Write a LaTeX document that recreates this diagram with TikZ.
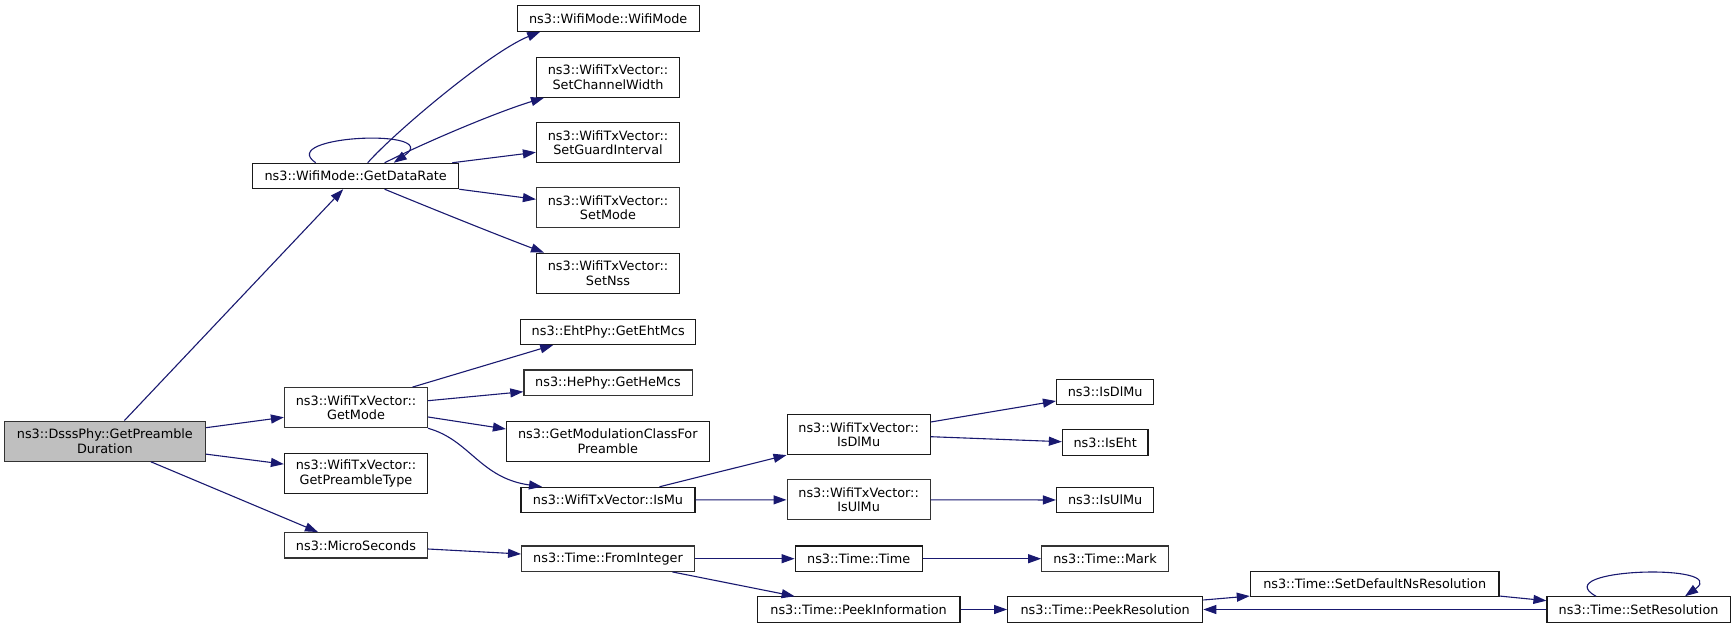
\documentclass[tikz,border=0pt]{standalone}
\usepackage{fontspec}
\setmainfont{DejaVu Sans}
\usetikzlibrary{arrows.meta}
\definecolor{edgec}{HTML}{191970}
\definecolor{rootfill}{HTML}{BFBFBF}
\definecolor{bord}{HTML}{1A1A1A}
\definecolor{bordg}{HTML}{333333}
\tikzset{
  fn/.style={draw=bord, line width=1.2pt, rectangle, inner sep=0pt, align=center,
    font=\fontsize{12.83}{14.5}\selectfont, minimum height=25.3pt, fill=white},
  two/.style={minimum height=40pt},
  gb/.style={draw=bordg},
  root/.style={fill=rootfill, draw=bordg},
  call/.style={draw=edgec, line width=1.1pt, -{Triangle[length=13pt,width=9pt]}},
}
\begin{document}
\begin{tikzpicture}[x=1pt,y=-1pt]
\useasboundingbox (0,0) rectangle (1736,628);
% column 0
\node[fn,two,root,minimum width=201pt] (dsss) at (104.9,441.2) {ns3::DsssPhy::GetPreamble\\Duration};
% column 1
\node[fn,minimum width=206pt] (gdr) at (355.7,176) {ns3::WifiMode::GetDataRate};
\node[fn,two,gb,minimum width=143pt] (gm) at (356,407.7) {ns3::WifiTxVector::\\GetMode};
\node[fn,two,minimum width=143pt] (gpt) at (356,473.3) {ns3::WifiTxVector::\\GetPreambleType};
\node[fn,gb,minimum width=143pt] (ms) at (356,545.3) {ns3::MicroSeconds};
% column 2
\node[fn,minimum width=182pt] (wm) at (608.2,18.5) {ns3::WifiMode::WifiMode};
\node[fn,two,minimum width=143pt] (scw) at (608,77.2) {ns3::WifiTxVector::\\SetChannelWidth};
\node[fn,two,minimum width=143pt] (sgi) at (608,142.5) {ns3::WifiTxVector::\\SetGuardInterval};
\node[fn,two,gb,minimum width=143pt] (sm) at (608,207.8) {ns3::WifiTxVector::\\SetMode};
\node[fn,two,minimum width=143pt] (sn) at (608,273.2) {ns3::WifiTxVector::\\SetNss};
\node[fn,minimum width=175.3pt] (eht) at (608.2,331.8) {ns3::EhtPhy::GetEhtMcs};
\node[fn,gb,minimum width=168.2pt] (he) at (608,382.7) {ns3::HePhy::GetHeMcs};
\node[fn,two,minimum width=202.6pt] (gmcp) at (607.8,441.2) {ns3::GetModulationClassFor\\Preamble};
\node[fn,minimum width=174pt] (ismu) at (608,500) {ns3::WifiTxVector::IsMu};
\node[fn,gb,minimum width=172.7pt] (fi) at (608,558.7) {ns3::Time::FromInteger};
% column 3
\node[fn,two,minimum width=143pt] (wdl) at (858.6,434.5) {ns3::WifiTxVector::\\IsDlMu};
\node[fn,two,gb,minimum width=143pt] (wul) at (858.6,499.8) {ns3::WifiTxVector::\\IsUlMu};
\node[fn,minimum width=127pt] (tt) at (858.7,558.7) {ns3::Time::Time};
\node[fn,minimum width=202.8pt] (pi) at (858.6,609.5) {ns3::Time::PeekInformation};
% column 4
\node[fn,minimum width=97.3pt] (isdl) at (1105.2,392) {ns3::IsDlMu};
\node[fn,minimum width=85.5pt] (iseht) at (1105.2,442.5) {ns3::IsEht};
\node[fn,minimum width=97.3pt] (isul) at (1105.2,500) {ns3::IsUlMu};
\node[fn,gb,minimum width=126.5pt] (mark) at (1105,558.7) {ns3::Time::Mark};
\node[fn,minimum width=195pt] (pr) at (1105.2,609.5) {ns3::Time::PeekResolution};
% column 5/6
\node[fn,minimum width=248.7pt] (sdns) at (1374.7,583.8) {ns3::Time::SetDefaultNsResolution};
\node[fn,minimum width=183.2pt] (sr) at (1638.6,609.5) {ns3::Time::SetResolution};

% edges from root
\draw[call] (dsss) -- (gdr);
\draw[call] (dsss) -- (gm);
\draw[call] (dsss) -- (gpt);
\draw[call] ([xshift=46pt]dsss.south) -- ([xshift=-38pt]ms.north);
% GetDataRate
\draw[call] ([xshift=12pt]gdr.north) .. controls (395,132) and (490,52) .. ([xshift=-68pt]wm.south);
\draw[call] ([xshift=29pt]gdr.north) .. controls (430,140) and (500,111) .. ([xshift=-64pt]scw.south);
\draw[call] ([xshift=-7pt]gdr.north east) -- ([yshift=-9.8pt]sgi.west);
\draw[call] (gdr.south east) -- ([yshift=8.5pt]sm.west);
\draw[call] ([xshift=29pt]gdr.south) .. controls (440,212) and (500,236) .. ([xshift=-64pt]sn.north);
\draw[call] ([xshift=-40pt]gdr.north) .. controls (275,135) and (445,128) .. ([xshift=38pt]gdr.north);
% GetMode
\draw[call] ([xshift=56.5pt]gm.north) -- ([xshift=-55pt]eht.south);
\draw[call] ([yshift=7pt]gm.east) -- ([yshift=-9pt]he.west);
\draw[call] ([yshift=-9.3pt]gm.east) -- ([yshift=12.2pt]gmcp.west);
\draw[call] (gm.south east) .. controls (470,440) and (480,478) .. ([xshift=-66pt]ismu.north);
% MicroSeconds
\draw[call] ([yshift=-3.7pt]ms.east) -- ([yshift=4.7pt]fi.west);
% IsMu
\draw[call] ([xshift=51.5pt]ismu.north) -- (wdl.south west);
\draw[call] (ismu) -- (wul);
% IsDlMu / IsUlMu
\draw[call] ([yshift=12.5pt]wdl.east) -- ([yshift=-9pt]isdl.west);
\draw[call] ([yshift=-2.2pt]wdl.east) -- ([yshift=0.8pt]iseht.west);
\draw[call] (wul) -- (isul);
% Time
\draw[call] (fi) -- (tt);
\draw[call] ([xshift=64.5pt]fi.south) -- ([xshift=-64pt]pi.north);
\draw[call] (tt) -- (mark);
\draw[call] (pi) -- (pr);
\draw[call] ([yshift=9.5pt]pr.east) -- ([yshift=1pt]sdns.south west);
\draw[call] ([yshift=1pt]sdns.south east) -- ([yshift=8.8pt]sr.west);
\draw[call] (sr) -- (pr);
\draw[call] ([xshift=-42.6pt]sr.north) .. controls (1545,568) and (1732,563) .. ([xshift=46.4pt]sr.north);
\end{tikzpicture}
\end{document}
